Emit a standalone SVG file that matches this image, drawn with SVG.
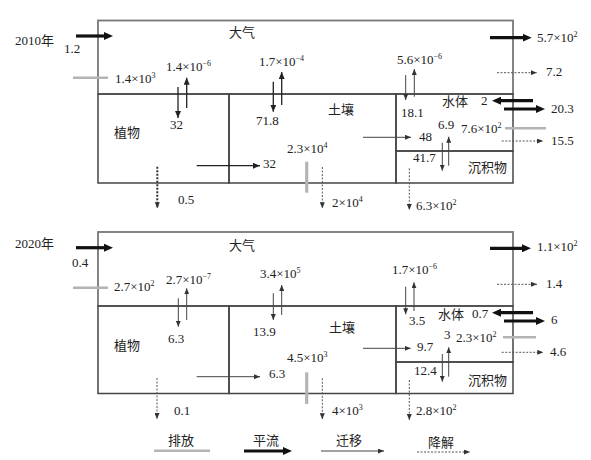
<svg xmlns="http://www.w3.org/2000/svg" width="591" height="460" viewBox="0 0 591 460">
<style>
text{font-family:"Liberation Serif","Noto Sans CJK SC",serif;font-size:13px;fill:#222}
.sup{font-size:8px}
.box{fill:none;stroke:#444;stroke-width:1.5}
.outer{fill:none;stroke:#777;stroke-width:1.8}
.adv{stroke:#111;stroke-width:3.2;fill:none}
.emi{stroke:#b4b4b4;stroke-width:2.6;fill:none}
.emv{stroke:#b4b4b4;stroke-width:3.2;fill:none}
.mig{stroke:#222;stroke-width:1.3;fill:none}
.migt{stroke:#444;stroke-width:1;fill:none}
.deg{stroke:#555;stroke-width:1;stroke-dasharray:2 1.5;fill:none}
.degb{stroke:#333;stroke-width:2;stroke-dasharray:2 1.5;fill:none}
</style>
<defs>
<marker id="ahA" markerUnits="userSpaceOnUse" markerWidth="9" markerHeight="8" refX="4" refY="4" orient="auto"><path d="M0,0 L9,4 L0,8 z" fill="#111"/></marker>
<marker id="ahM" markerUnits="userSpaceOnUse" markerWidth="7" markerHeight="6" refX="7" refY="3" orient="auto"><path d="M0,0 L7,3 L0,6 z" fill="#222"/></marker>
<marker id="ahD" markerUnits="userSpaceOnUse" markerWidth="6" markerHeight="5" refX="6" refY="2.5" orient="auto"><path d="M0,0 L6,2.5 L0,5 z" fill="#333"/></marker>
</defs>

<!-- 2010 panel -->
<g id="atm-2010"><rect class="outer" x="98" y="20.5" width="415" height="73.5"/><text x="229" y="37">大气</text></g>
<g id="plant-2010"><rect class="box" x="98" y="94" width="131" height="89"/><text x="114" y="137">植物</text></g>
<g id="soil-2010"><rect class="box" x="229" y="94" width="167" height="89"/><text x="328" y="114">土壤</text></g>
<g id="water-2010"><rect class="box" x="396" y="94" width="117" height="57"/><text x="442" y="106">水体</text></g>
<g id="sed-2010"><rect class="box" x="396" y="151" width="117" height="32"/><text x="468" y="172">沉积物</text></g>

<!-- 2020 panel -->
<g id="atm-2020"><rect class="outer" x="98" y="232" width="415" height="74"/><text x="229" y="250">大气</text></g>
<g id="plant-2020"><rect class="box" x="98" y="306" width="131" height="87.5"/><text x="114" y="350">植物</text></g>
<g id="soil-2020"><rect class="box" x="229" y="306" width="167" height="87.5"/><text x="329" y="332">土壤</text></g>
<g id="water-2020"><rect class="box" x="396" y="306" width="117" height="56"/><text x="438" y="319">水体</text></g>
<g id="sed-2020"><rect class="box" x="396" y="362" width="117" height="31.5"/><text x="468" y="385">沉积物</text></g>

<g id="connectors">
<!-- 2010 -->
<line class="adv" x1="76" y1="36" x2="108" y2="36" marker-end="url(#ahA)"/>
<line class="emi" x1="73" y1="77.7" x2="108" y2="77.7"/>
<line class="mig" x1="178" y1="87" x2="178" y2="118" marker-end="url(#ahM)"/>
<line class="mig" x1="186.7" y1="108" x2="186.7" y2="77.7" marker-end="url(#ahM)"/>
<line class="mig" x1="273.3" y1="81.7" x2="273.3" y2="111.7" marker-end="url(#ahM)"/>
<line class="mig" x1="281.7" y1="105" x2="281.7" y2="72" marker-end="url(#ahM)"/>
<line class="migt" x1="405.7" y1="75" x2="405.7" y2="100" marker-end="url(#ahD)"/>
<line class="migt" x1="414.3" y1="96.7" x2="414.3" y2="69" marker-end="url(#ahD)"/>
<line class="adv" x1="490" y1="37.7" x2="526.7" y2="37.7" marker-end="url(#ahA)"/>
<line class="deg" x1="497" y1="72.7" x2="536.7" y2="72.7" marker-end="url(#ahD)"/>
<line class="adv" x1="533" y1="100.7" x2="497" y2="100.7" marker-end="url(#ahA)"/>
<line class="adv" x1="504" y1="109" x2="540" y2="109" marker-end="url(#ahA)"/>
<line class="migt" x1="363" y1="137.3" x2="411" y2="137.3" marker-end="url(#ahD)"/>
<line class="emi" x1="505" y1="128.3" x2="546" y2="128.3"/>
<line class="deg" x1="501.7" y1="141" x2="543" y2="141" marker-end="url(#ahD)"/>
<line class="migt" x1="442.3" y1="142.7" x2="442.3" y2="170.7" marker-end="url(#ahD)"/>
<line class="migt" x1="448.7" y1="165.7" x2="448.7" y2="136.7" marker-end="url(#ahD)"/>
<line class="deg" x1="409.3" y1="168.3" x2="409.3" y2="210" marker-end="url(#ahD)"/>
<line class="mig" x1="196.7" y1="165.7" x2="260" y2="165.7" marker-end="url(#ahM)"/>
<line class="degb" x1="157.3" y1="166.7" x2="157.3" y2="208.3" marker-end="url(#ahD)"/>
<line class="emv" x1="306.7" y1="161.7" x2="306.7" y2="192.7"/>
<line class="deg" x1="322.3" y1="167" x2="322.3" y2="208.3" marker-end="url(#ahD)"/>
<!-- 2020 -->
<line class="adv" x1="76" y1="247.7" x2="108" y2="247.7" marker-end="url(#ahA)"/>
<line class="emi" x1="73" y1="287.7" x2="108" y2="287.7"/>
<line class="migt" x1="178.3" y1="298.3" x2="178.3" y2="326.7" marker-end="url(#ahD)"/>
<line class="migt" x1="186.7" y1="320" x2="186.7" y2="288.3" marker-end="url(#ahD)"/>
<line class="migt" x1="273.3" y1="293.3" x2="273.3" y2="320" marker-end="url(#ahD)"/>
<line class="migt" x1="281.7" y1="315" x2="281.7" y2="285" marker-end="url(#ahD)"/>
<line class="migt" x1="405.7" y1="286.7" x2="405.7" y2="314.3" marker-end="url(#ahD)"/>
<line class="migt" x1="414" y1="311" x2="414" y2="282.3" marker-end="url(#ahD)"/>
<line class="adv" x1="490" y1="248.3" x2="526" y2="248.3" marker-end="url(#ahA)"/>
<line class="deg" x1="497" y1="284.3" x2="537" y2="284.3" marker-end="url(#ahD)"/>
<line class="adv" x1="533" y1="312.7" x2="497" y2="312.7" marker-end="url(#ahA)"/>
<line class="adv" x1="504" y1="321" x2="540" y2="321" marker-end="url(#ahA)"/>
<line class="migt" x1="363" y1="348.3" x2="410.7" y2="348.3" marker-end="url(#ahD)"/>
<line class="emi" x1="503" y1="337.3" x2="536" y2="337.3"/>
<line class="deg" x1="501.7" y1="352.3" x2="543.3" y2="352.3" marker-end="url(#ahD)"/>
<line class="migt" x1="442.3" y1="354" x2="442.3" y2="381.7" marker-end="url(#ahD)"/>
<line class="migt" x1="448.7" y1="376.7" x2="448.7" y2="347.3" marker-end="url(#ahD)"/>
<line class="deg" x1="409.3" y1="380" x2="409.3" y2="420" marker-end="url(#ahD)"/>
<line class="migt" x1="196.7" y1="376.7" x2="260" y2="376.7" marker-end="url(#ahD)"/>
<line class="deg" x1="157" y1="378" x2="157" y2="419" marker-end="url(#ahD)"/>
<line class="emv" x1="306.7" y1="372.3" x2="306.7" y2="404"/>
<line class="deg" x1="322.3" y1="378.3" x2="322.3" y2="419.3" marker-end="url(#ahD)"/>
</g>

<g id="labels-2010">
<text x="15" y="45">2010年</text>
<text x="64" y="53">1.2</text>
<text x="115" y="83">1.4×10<tspan class="sup" dy="-5">3</tspan></text>
<text x="166" y="71">1.4×10<tspan class="sup" dy="-5">−6</tspan></text>
<text x="259" y="66">1.7×10<tspan class="sup" dy="-5">−4</tspan></text>
<text x="397" y="64">5.6×10<tspan class="sup" dy="-5">−6</tspan></text>
<text x="537" y="42">5.7×10<tspan class="sup" dy="-5">2</tspan></text>
<text x="546" y="76">7.2</text>
<text x="170" y="129">32</text>
<text x="256" y="125">71.8</text>
<text x="401" y="117">18.1</text>
<text x="481" y="105">2</text>
<text x="551" y="113">20.3</text>
<text x="419" y="141">48</text>
<text x="438" y="129">6.9</text>
<text x="461" y="133">7.6×10<tspan class="sup" dy="-5">2</tspan></text>
<text x="551" y="145">15.5</text>
<text x="413" y="162">41.7</text>
<text x="416" y="210">6.3×10<tspan class="sup" dy="-5">2</tspan></text>
<text x="263" y="168">32</text>
<text x="178" y="204">0.5</text>
<text x="287" y="153">2.3×10<tspan class="sup" dy="-5">4</tspan></text>
<text x="332" y="207">2×10<tspan class="sup" dy="-5">4</tspan></text>
</g>

<g id="labels-2020">
<text x="15" y="248">2020年</text>
<text x="72" y="267">0.4</text>
<text x="114" y="291">2.7×10<tspan class="sup" dy="-5">2</tspan></text>
<text x="166" y="284">2.7×10<tspan class="sup" dy="-5">−7</tspan></text>
<text x="260" y="278">3.4×10<tspan class="sup" dy="-5">5</tspan></text>
<text x="392" y="274">1.7×10<tspan class="sup" dy="-5">−6</tspan></text>
<text x="537" y="251">1.1×10<tspan class="sup" dy="-5">2</tspan></text>
<text x="546" y="288">1.4</text>
<text x="168" y="343">6.3</text>
<text x="253" y="336">13.9</text>
<text x="409" y="325">3.5</text>
<text x="472" y="318">0.7</text>
<text x="551" y="324">6</text>
<text x="417" y="351">9.7</text>
<text x="444" y="339">3</text>
<text x="456" y="342">2.3×10<tspan class="sup" dy="-5">2</tspan></text>
<text x="550" y="356">4.6</text>
<text x="414" y="375">12.4</text>
<text x="416" y="415">2.8×10<tspan class="sup" dy="-5">2</tspan></text>
<text x="269" y="378">6.3</text>
<text x="287" y="362">4.5×10<tspan class="sup" dy="-5">3</tspan></text>
<text x="174" y="415">0.1</text>
<text x="332" y="415">4×10<tspan class="sup" dy="-5">3</tspan></text>
</g>

<g id="legend">
<text x="168" y="445">排放</text>
<line class="emi" x1="154" y1="450.7" x2="210" y2="450.7"/>
<text x="253" y="445">平流</text>
<line class="adv" x1="244" y1="451" x2="287" y2="451" marker-end="url(#ahA)"/>
<text x="336" y="445">迁移</text>
<line class="migt" x1="321" y1="451" x2="384" y2="451" marker-end="url(#ahD)"/>
<text x="428" y="447">降解</text>
<line class="deg" x1="417" y1="452" x2="470" y2="452" marker-end="url(#ahD)"/>
</g>
</svg>
